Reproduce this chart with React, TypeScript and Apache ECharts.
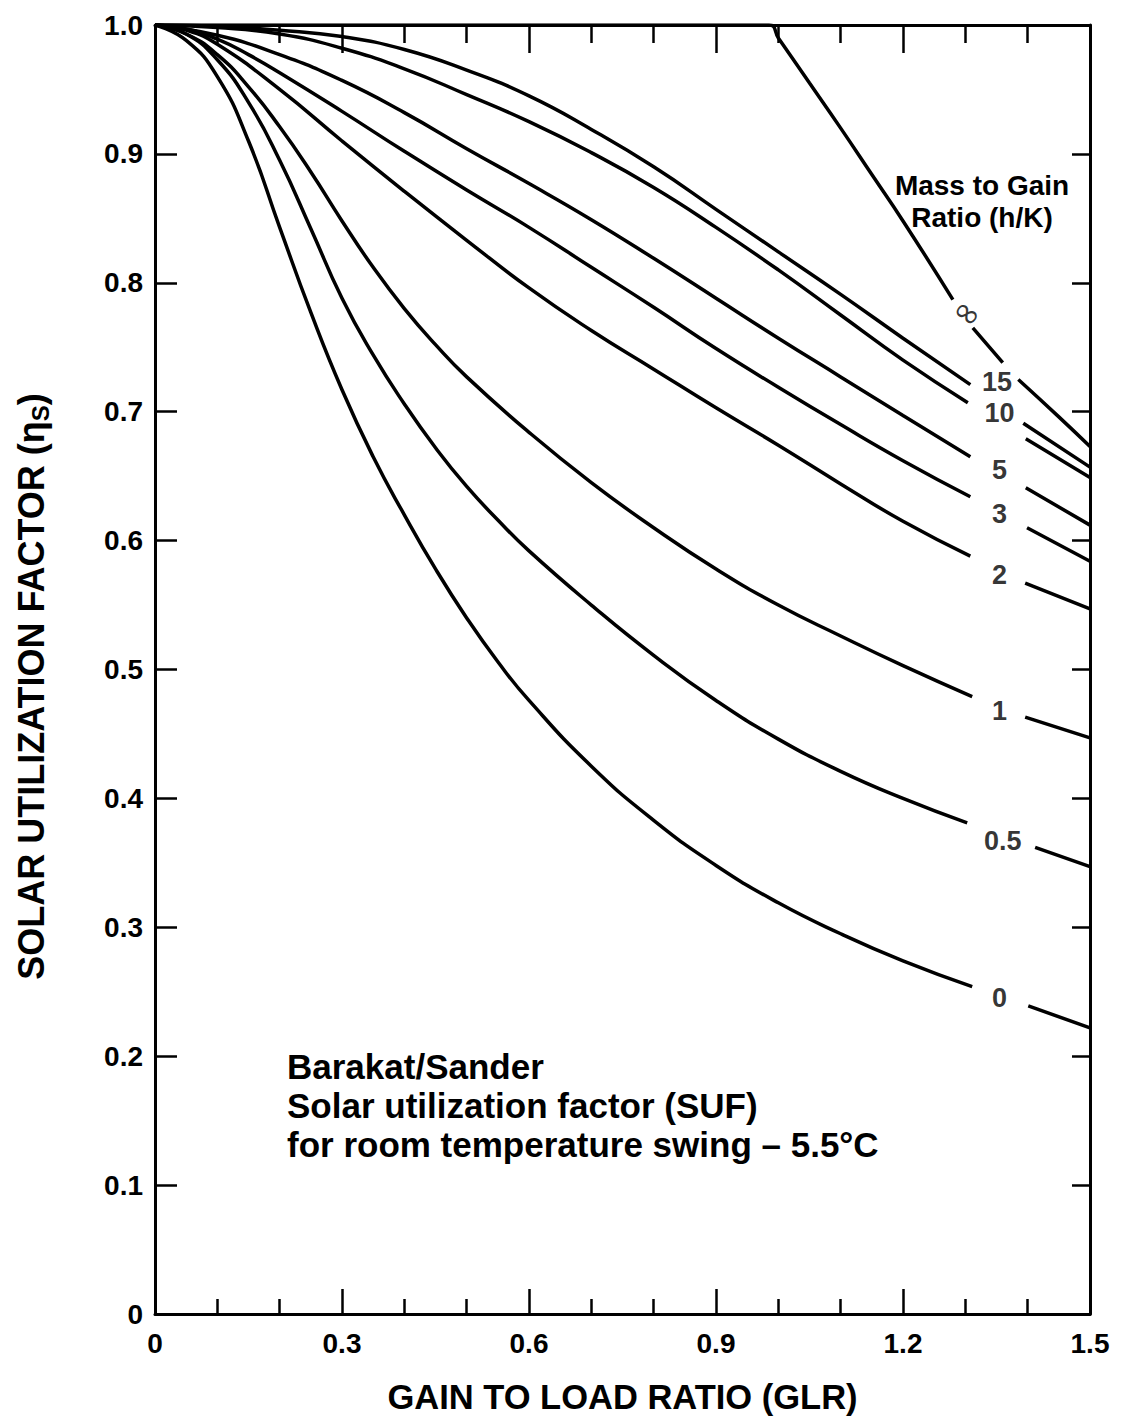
import React, { useEffect, useRef } from "react";
import * as echarts from "echarts";

const FONT = "'Liberation Sans', Arial, Helvetica, sans-serif";

const xTickLabels = ["0", "0.3", "0.6", "0.9", "1.2", "1.5"];
const yTickLabels = ["0", "0.1", "0.2", "0.3", "0.4", "0.5", "0.6", "0.7", "0.8", "0.9", "1.0"];

type Pt = [number, number | string];

// Mass to gain ratio curves [GLR, SUF]; "-" marks the break where the label sits
const curve0: Pt[] = [
  [0, 1], [0.05, 0.988], [0.1, 0.96], [0.15, 0.91], [0.2, 0.843], [0.25, 0.777], [0.3, 0.717],
  [0.35, 0.665], [0.4, 0.62], [0.45, 0.578], [0.5, 0.54], [0.55, 0.506], [0.6, 0.476],
  [0.7, 0.425], [0.8, 0.383], [0.9, 0.348], [1.0, 0.319], [1.1, 0.295], [1.2, 0.274],
  [1.311, 0.254], [1.36, "-"], [1.401, 0.239], [1.5, 0.222],
];
const curve05: Pt[] = [
  [0, 1], [0.05, 0.993], [0.1, 0.973], [0.15, 0.94], [0.2, 0.895], [0.25, 0.842], [0.3, 0.788],
  [0.35, 0.744], [0.4, 0.706], [0.45, 0.672], [0.5, 0.642], [0.55, 0.616], [0.6, 0.592],
  [0.7, 0.55], [0.8, 0.511], [0.9, 0.476], [1.0, 0.446], [1.1, 0.421], [1.2, 0.4],
  [1.303, 0.381], [1.36, "-"], [1.412, 0.362], [1.5, 0.347],
];
const curve1: Pt[] = [
  [0, 1], [0.05, 0.993], [0.1, 0.977], [0.15, 0.952], [0.2, 0.921], [0.25, 0.886], [0.3, 0.848],
  [0.35, 0.812], [0.4, 0.78], [0.45, 0.752], [0.5, 0.727], [0.6, 0.684], [0.7, 0.645],
  [0.8, 0.61], [0.9, 0.578], [1.0, 0.55], [1.1, 0.526], [1.2, 0.503], [1.311, 0.479],
  [1.35, "-"], [1.396, 0.463], [1.5, 0.447],
];
const curve2: Pt[] = [
  [0, 1], [0.05, 0.996], [0.1, 0.985], [0.2, 0.95], [0.3, 0.91], [0.4, 0.871], [0.5, 0.833],
  [0.6, 0.796], [0.7, 0.763], [0.8, 0.733], [0.9, 0.703], [1.0, 0.674], [1.1, 0.644],
  [1.2, 0.615], [1.308, 0.588], [1.35, "-"], [1.396, 0.567], [1.5, 0.547],
];
const curve3: Pt[] = [
  [0, 1], [0.05, 0.997], [0.1, 0.989], [0.15, 0.977], [0.2, 0.963], [0.3, 0.933], [0.4, 0.902],
  [0.5, 0.872], [0.6, 0.843], [0.7, 0.812], [0.8, 0.781], [0.9, 0.749], [1.0, 0.719],
  [1.1, 0.69], [1.2, 0.662], [1.308, 0.634], [1.35, "-"], [1.399, 0.61], [1.5, 0.584],
];
const curve5: Pt[] = [
  [0, 1], [0.1, 0.992], [0.2, 0.977], [0.3, 0.957], [0.4, 0.932], [0.5, 0.904], [0.6, 0.877],
  [0.7, 0.849], [0.8, 0.819], [0.9, 0.788], [1.0, 0.757], [1.1, 0.727], [1.2, 0.697],
  [1.308, 0.665], [1.35, "-"], [1.397, 0.641], [1.5, 0.612],
];
const curve10: Pt[] = [
  [0, 1], [0.1, 0.998], [0.2, 0.993], [0.3, 0.982], [0.4, 0.966], [0.5, 0.946], [0.6, 0.925],
  [0.7, 0.901], [0.8, 0.874], [0.9, 0.843], [1.0, 0.81], [1.1, 0.775], [1.2, 0.74],
  [1.304, 0.707], [1.35, "-"], [1.397, 0.679], [1.5, 0.649],
];
const curve15: Pt[] = [
  [0, 1], [0.1, 0.999], [0.2, 0.996], [0.3, 0.991], [0.4, 0.981], [0.5, 0.965], [0.6, 0.945],
  [0.7, 0.919], [0.8, 0.89], [0.9, 0.857], [1.0, 0.824], [1.1, 0.791], [1.2, 0.757],
  [1.308, 0.721], [1.35, "-"], [1.393, 0.691], [1.5, 0.657],
];
const curveInf: Pt[] = [
  [0, 1], [0.985, 1], [1.0, 0.99], [1.05, 0.955], [1.1, 0.92], [1.15, 0.884], [1.2, 0.848],
  [1.28, 0.787], [1.296, "-"], [1.312, 0.765], [1.36, 0.738], [1.372, "-"], [1.385, 0.725],
  [1.45, 0.696], [1.5, 0.673],
];

const curves: Pt[][] = [curve0, curve05, curve1, curve2, curve3, curve5, curve10, curve15, curveInf];
const curveNames = ["0", "0.5", "1", "2", "3", "5", "10", "15", "∞"];
// label anchor positions [GLR, SUF]
const labelPos: [number, number][] = [
  [1.355, 0.245], [1.36, 0.367], [1.355, 0.468], [1.355, 0.573], [1.355, 0.621],
  [1.355, 0.655], [1.355, 0.699], [1.351, 0.723], [1.304, 0.777],
];

const noteLines = [
  "Barakat/Sander",
  "Solar utilization factor (SUF)",
  "for room temperature swing \u2013 5.5\u00B0C",
];
const legendTitle = ["Mass to Gain", "Ratio (h/K)"];

export default function App() {
  const ref = useRef<HTMLDivElement>(null);
  useEffect(() => {
    if (!ref.current) return;
    const chart = echarts.init(ref.current, undefined, { renderer: "svg" });
    const black = "#000";
    const tickStyle = { color: black, width: 2.5 };
    const lineSeries = curves.map((d, i) => ({
      type: "line",
      name: curveNames[i],
      data: d,
      showSymbol: false,
      symbol: "none",
      smooth: 0.5,
      connectNulls: false,
      lineStyle: { color: black, width: 3.5 },
      z: 3,
    }));
    const numIdx = curveNames.map((_, i) => i).filter((i) => curveNames[i] !== "∞");
    const infIdx = curveNames.indexOf("∞");
    const labelSeries = {
      type: "scatter",
      symbolSize: 1,
      itemStyle: { color: "rgba(0,0,0,0)" },
      z: 5,
      data: numIdx.map((i) => ({ name: curveNames[i], value: labelPos[i] })),
      label: {
        show: true,
        position: "inside",
        formatter: "{b}",
        fontSize: 27,
        fontWeight: "bold",
        fontFamily: FONT,
        color: black,
      },
    };
    const infLabelSeries = {
      type: "scatter",
      symbolSize: 1,
      itemStyle: { color: "rgba(0,0,0,0)" },
      z: 5,
      data: [{ name: curveNames[infIdx], value: labelPos[infIdx] }],
      label: {
        show: true,
        position: "inside",
        formatter: "{b}",
        rotate: -35,
        fontSize: 34,
        fontFamily: "'DejaVu Sans', sans-serif",
        color: black,
      },
    };
    chart.setOption({
      animation: false,
      backgroundColor: "#fff",
      grid: { left: 155, right: 45, top: 25, bottom: 104, containLabel: false },
      xAxis: [
        {
          type: "value",
          min: 0,
          max: 1.5,
          interval: 0.3,
          position: "bottom",
          axisLine: { show: true, onZero: false, lineStyle: { color: black, width: 3 } },
          axisTick: { show: true, inside: true, length: 25, lineStyle: tickStyle },
          minorTick: { show: true, splitNumber: 3, length: 15, lineStyle: tickStyle },
          splitLine: { show: false },
          minorSplitLine: { show: false },
          axisLabel: {
            formatter: (v: number) => xTickLabels[Math.round(v / 0.3)] ?? "",
            fontSize: 28,
            fontWeight: "bold",
            fontFamily: FONT,
            color: black,
            margin: 15,
          },
          name: "GAIN TO LOAD RATIO (GLR)",
          nameLocation: "middle",
          nameGap: 65,
          nameTextStyle: { fontSize: 34.5, fontWeight: "bold", fontFamily: FONT, color: black },
        },
        {
          type: "value",
          min: 0,
          max: 1.5,
          interval: 0.3,
          position: "top",
          axisLine: { show: true, onZero: false, lineStyle: { color: black, width: 3 } },
          axisTick: { show: true, inside: true, length: 28, lineStyle: tickStyle },
          minorTick: { show: true, splitNumber: 3, length: 18, lineStyle: tickStyle },
          splitLine: { show: false },
          axisLabel: { show: false },
        },
      ],
      yAxis: [
        {
          type: "value",
          min: 0,
          max: 1,
          interval: 0.1,
          position: "left",
          axisLine: { show: true, onZero: false, lineStyle: { color: black, width: 3 } },
          axisTick: { show: true, inside: true, length: 22, lineStyle: tickStyle },
          splitLine: { show: false },
          axisLabel: {
            formatter: (v: number) => yTickLabels[Math.round(v * 10)] ?? "",
            fontSize: 28,
            fontWeight: "bold",
            fontFamily: FONT,
            color: black,
            margin: 12,
          },
          name: "SOLAR UTILIZATION FACTOR (\u03B7{s|S})",
          nameLocation: "middle",
          nameGap: 103,
          nameTextStyle: {
            fontSize: 36,
            fontWeight: "bold",
            fontFamily: FONT,
            color: black,
            padding: [0, 34, 0, 0],
            rich: {
              s: { fontSize: 24, fontWeight: "bold", fontFamily: FONT, color: black, padding: [18, 0, 0, 0] },
            },
          },
        },
        {
          type: "value",
          min: 0,
          max: 1,
          interval: 0.1,
          position: "right",
          axisLine: { show: true, onZero: false, lineStyle: { color: black, width: 3 } },
          axisTick: { show: true, inside: true, length: 18, lineStyle: tickStyle },
          splitLine: { show: false },
          axisLabel: { show: false },
        },
      ],
      series: [...lineSeries, labelSeries, infLabelSeries],
      graphic: [
        ...noteLines.map((t, i) => ({
          type: "text",
          left: 287,
          top: 1049 + i * 39,
          z: 100,
          style: { text: t, fontSize: 35, fontWeight: "bold", fontFamily: FONT, fill: black },
        })),
        ...legendTitle.map((t, i) => ({
          type: "text",
          x: 982,
          y: 171 + i * 32,
          z: 100,
          style: { text: t, fontSize: 28, fontWeight: "bold", fontFamily: FONT, fill: black, align: "center" },
        })),
      ],
    });
    return () => chart.dispose();
  }, []);
  return (
    <div
      ref={ref}
      style={{ position: "absolute", left: 0, top: 0, width: 1135, height: 1419, background: "#fff" }}
    />
  );
}
